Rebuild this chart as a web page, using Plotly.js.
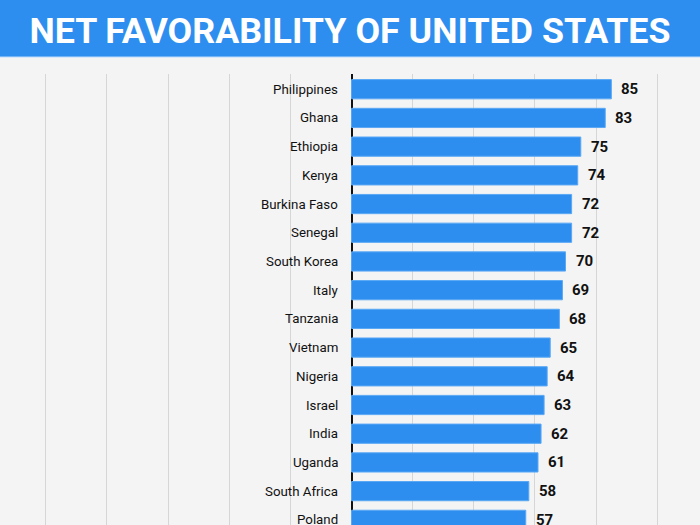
<!DOCTYPE html>
<html>
<head>
<meta charset="utf-8">
<script src="https://cdn.plot.ly/plotly-3.0.1.min.js"></script>
<style>html,body{margin:0;padding:0;background:#f4f4f4;}#chart{width:700px;height:525px;}</style>
</head>
<body>
<div id="chart"></div>
<script>
const countries = ["Philippines","Ghana","Ethiopia","Kenya","Burkina Faso","Senegal","South Korea","Italy","Tanzania","Vietnam","Nigeria","Israel","India","Uganda","South Africa","Poland"];
const netFavorability = [85,83,75,74,72,72,70,69,68,65,64,63,62,61,58,57];
const chartTitle = "NET FAVORABILITY OF UNITED STATES";
const xTicks = [-100,-80,-60,-40,-20,0,20,40,60,80,100];

const trace = {
  type: "bar",
  orientation: "h",
  x: netFavorability,
  y: countries,
  marker: {color: "#2d8ef0", line: {color: "#5aa8f5", width: 1}},
  hoverinfo: "none",
  cliponaxis: true
};

const annotations = [];
countries.forEach((c, i) => {
  annotations.push({x: 0, y: c, xref: "x", yref: "y", text: c, showarrow: false,
    xanchor: "right", yanchor: "middle", xshift: -12,
    font: {family: "Roboto", size: 13.3, color: "#111111"}});
  annotations.push({x: netFavorability[i], y: c, xref: "x", yref: "y", text: "<b>" + netFavorability[i] + "</b>",
    showarrow: false, xanchor: "left", yanchor: "middle", xshift: 8,
    font: {family: "Roboto", size: 15, color: "#111"}});
});

const layout = {
  width: 700, height: 525,
  margin: {l: 0, r: 0, t: 74, b: 0, pad: 0},
  paper_bgcolor: "#f4f4f4",
  plot_bgcolor: "#f4f4f4",
  showlegend: false,
  bargap: 0.33,
  title: {text: "<b>" + chartTitle + "</b>", x: 0.5, xanchor: "center", y: 1 - 30/525, yanchor: "middle", yref: "container",
    font: {family: "Roboto", size: 35.8, color: "#ffffff"}},
  xaxis: {range: [-115, 114], tickvals: xTicks, showticklabels: false, showgrid: true,
    gridcolor: "#d6d6d6", gridwidth: 1, zeroline: true, zerolinecolor: "#111", zerolinewidth: 2,
    showline: false, fixedrange: true},
  yaxis: {range: [15.18, -0.53], showticklabels: false, showgrid: false, zeroline: false, showline: false, type: "category"},
  shapes: [{type: "rect", xref: "paper", yref: "paper", x0: -0.01, x1: 1.01, y0: 1 + 17/451, y1: 1 + 80/451,
    fillcolor: "#2d8ef0", line: {width: 0}, layer: "below"},
    {type: "line", xref: "paper", yref: "paper", x0: -0.01, x1: 1.01, y0: 1 + 17/451, y1: 1 + 17/451,
    line: {color: "#bcdcfb", width: 1}}],
  annotations: annotations
};

Plotly.newPlot("chart", [trace], layout, {displayModeBar: false, staticPlot: true});
</script>
</body>
</html>
